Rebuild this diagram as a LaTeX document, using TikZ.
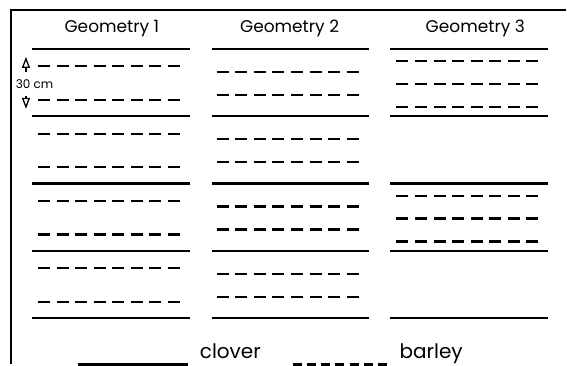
\documentclass[tikz,border=0pt]{standalone}
\usepackage{fontspec}
\setmainfont{Poppins}
\usepackage{tikz}
\usetikzlibrary{arrows.meta}

\tikzset{
  clover/.style={line width=2.2pt},
  barley/.style={line width=2.1pt, dash pattern=on 12pt off 6.6pt},
  legbarley/.style={line width=2.1pt, dash pattern=on 9pt off 5.3pt},
  header/.style={font=\fontsize{17}{19}\selectfont, anchor=base},
  legend/.style={font=\fontsize{20}{22}\selectfont, anchor=base west, inner sep=0pt},
  dimarrow/.style={line width=1.3pt, -{Triangle[open, length=11pt, width=8pt]}},
}

\begin{document}
\begin{tikzpicture}[x=1pt, y=-1pt]

  \fill[white] (0,0) rectangle (567,365);
  \draw[line width=1.6pt] (11,365) -- (11,10) -- (567,10);

  % Every geometry is four bands of 30 cm between clover rows; only the
  % barley rows inside the bands change from one geometry to the next.
  \foreach \cx/\hx/\num in {32/112/1, 212/290/2, 391/476/3}{
    \begin{scope}[shift={(\cx,0)}]
      \node[header] (geo\num) at (\hx-\cx,33) {Geometry \num};
      \foreach \k in {0,...,4}
        \draw[clover] (0,49+67.4*\k) -- (158,49+67.4*\k);
    \end{scope}}

  \foreach \k in {0,...,3}{
    \foreach \d in {17.5,51}
      \draw[barley] (38,49+67.4*\k+\d) -- ++(142.2,0);
    \foreach \d in {23,46}
      \draw[barley] (217,49+67.4*\k+\d) -- ++(142.2,0);
  }
  % Geometry 3 leaves the second and fourth band empty.
  \foreach \k in {0,2}
    \foreach \d in {12.5,35,58}
      \draw[barley] (397,49+67.4*\k+\d) -- ++(142.2,0);

  % 30 cm marker on the first band of geometry 1
  \node[font=\fontsize{12}{14}\selectfont, inner sep=0pt, minimum height=24pt]
    (span) at (34.5,84) {30 cm};
  \coordinate (uptip) at (26,57);
  \coordinate (dntip) at (26,109);
  \draw[dimarrow] (span.north -| uptip) -- (uptip);
  \draw[dimarrow] (span.south -| dntip) -- (dntip);

  % legend
  \node[legend] (clov) at (200,359) {clover};
  \node[legend] (barl) at (400,359) {barley};
  \draw[clover] ([xshift=-122pt, yshift=-6pt]clov.base west) -- ([xshift=-12pt, yshift=-6pt]clov.base west);
  \draw[legbarley] ([xshift=-107pt, yshift=-6pt]barl.base west) -- ([xshift=-12pt, yshift=-6pt]barl.base west);

\end{tikzpicture}
\end{document}
